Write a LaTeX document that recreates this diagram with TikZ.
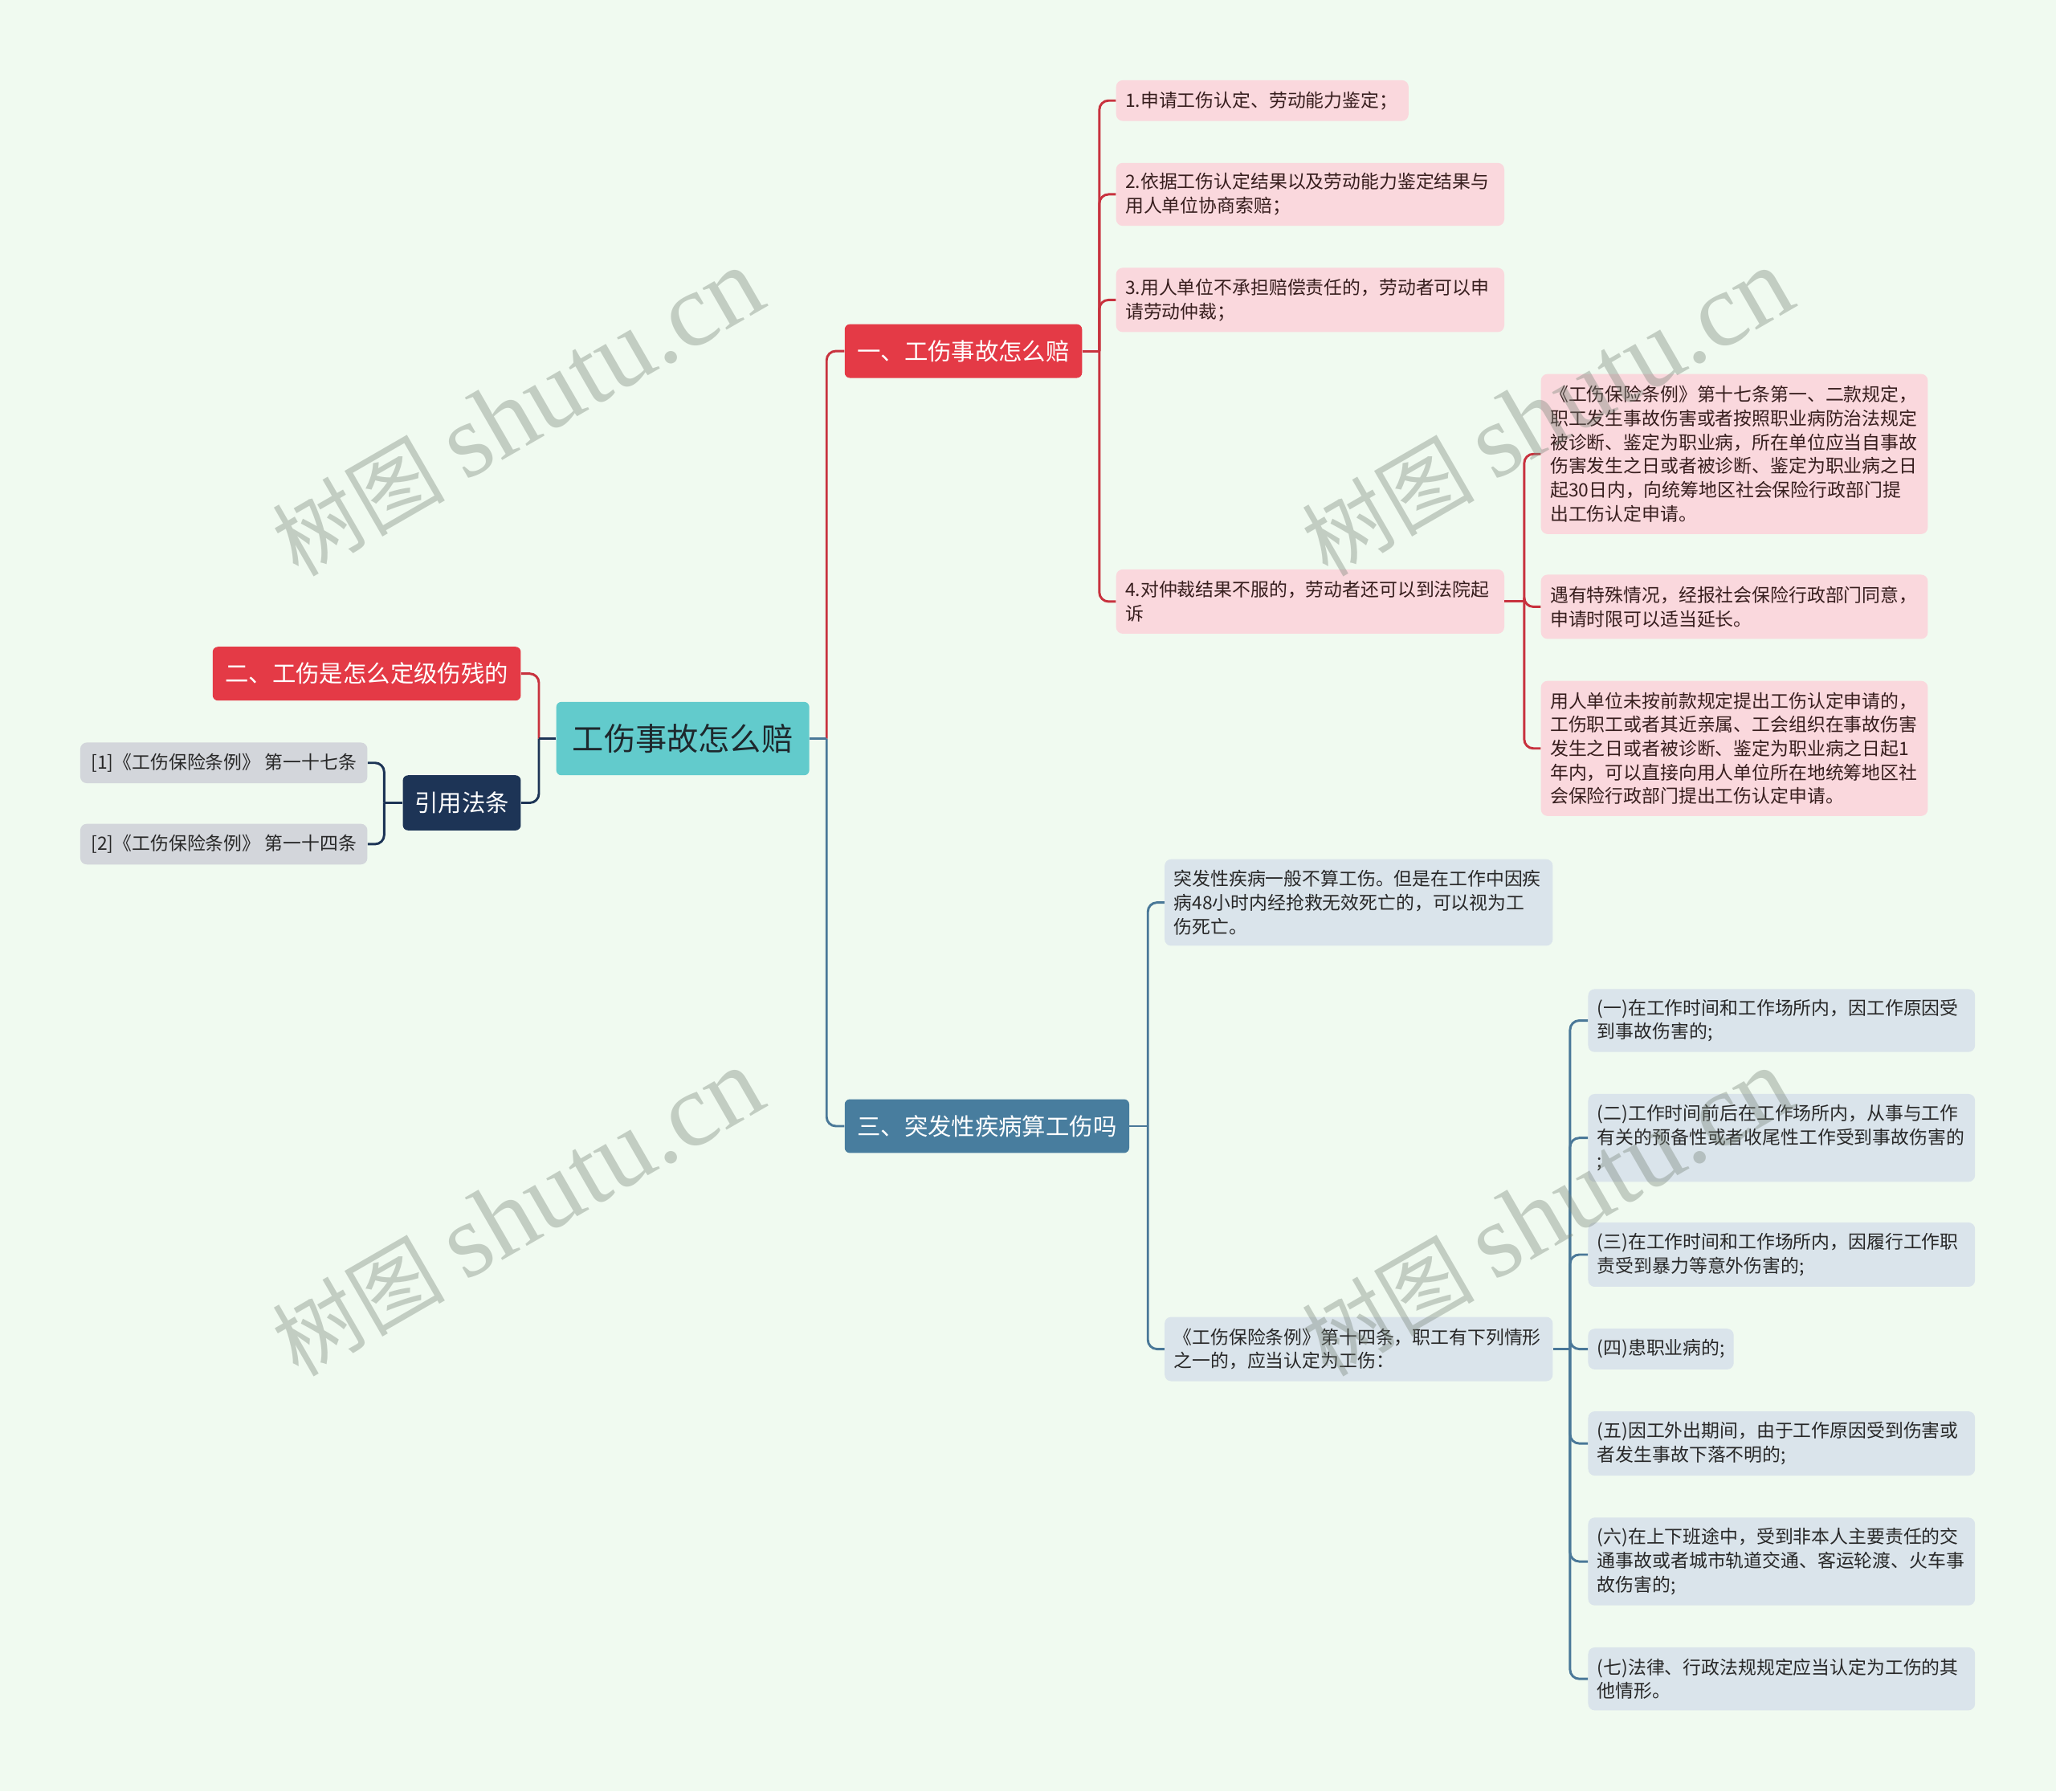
\documentclass[tikz,border=0pt]{standalone}
\usepackage{fontspec}
\setmainfont{Noto Sans CJK SC}
\newfontfamily\wmlatin{Liberation Serif}
\definecolor{bgc}{RGB}{240,250,240}
\definecolor{pinkleaf}{RGB}{250,216,221}
\definecolor{redmain}{RGB}{228,58,70}
\definecolor{redline}{RGB}{200,50,62}
\definecolor{tealroot}{RGB}{98,203,204}
\definecolor{bluemain}{RGB}{72,125,158}
\definecolor{blueline}{RGB}{74,120,152}
\definecolor{blueleaf}{RGB}{218,228,235}
\definecolor{navy}{RGB}{29,52,86}
\definecolor{grayleaf}{RGB}{211,214,219}
\definecolor{pinktext}{RGB}{55,30,30}
\definecolor{darktext}{RGB}{40,40,40}
\definecolor{roottext}{RGB}{30,40,45}
\definecolor{wmcol}{RGB}{120,132,120}
\begin{document}
\begin{tikzpicture}[x=1pt,y=-1pt,
  leafbase/.style={anchor=north west, rounded corners=5pt, inner xsep=7pt, inner ysep=0pt, align=left, font=\fontsize{14}{18.2}\selectfont},
  pk/.style={leafbase, fill=pinkleaf, text=pinktext},
  bl/.style={leafbase, fill=blueleaf, text=darktext},
  gy/.style={leafbase, fill=grayleaf, text=darktext, align=center, inner xsep=0pt},
  mainbox/.style={anchor=north west, rounded corners=4pt, inner sep=0pt, align=center, font=\fontsize{18}{22}\selectfont, text=white},
  link/.style={line width=1.8pt, rounded corners=7pt},
  redl/.style={link, draw=redline},
  bluel/.style={link, draw=blueline},
  navyl/.style={link, draw=navy},
  wm/.style={text=wmcol, text opacity=0.38, rotate=30, inner sep=0pt}
]
\fill[bgc] (0,0) rectangle (1568,1366);
\useasboundingbox (0,0) rectangle (1568,1366);

% root
\node[anchor=north west, rounded corners=4pt, inner sep=0pt, fill=tealroot, text=roottext,
  minimum width=193pt, minimum height=56pt, font=\fontsize{24}{28}\selectfont] (root) at (424,535) {工伤事故怎么赔};

% main branches
\node[mainbox, fill=redmain, minimum width=181pt, minimum height=41pt] (b1) at (644,247) {一、工伤事故怎么赔};
\node[mainbox, fill=bluemain, minimum width=217pt, minimum height=41pt] (b3) at (644,838) {三、突发性疾病算工伤吗};
\node[mainbox, fill=redmain, minimum width=235pt, minimum height=41pt] (b2) at (162,493) {二、工伤是怎么定级伤残的};
\node[mainbox, fill=navy, minimum width=90pt, minimum height=42pt] (cite) at (307,591) {引用法条};

% citations
\node[gy, minimum width=219pt, minimum height=31pt] (c1) at (61,566) {[1]《工伤保险条例》 第一十七条};
\node[gy, minimum width=219pt, minimum height=31pt] (c2) at (61,628) {[2]《工伤保险条例》 第一十四条};

% red leaves
\node[pk, text width=209pt, minimum height=31pt] (r1) at (851,61) {1.申请工伤认定、劳动能力鉴定；};
\node[pk, text width=282pt, minimum height=48pt] (r2) at (851,124) {2.依据工伤认定结果以及劳动能力鉴定结果与\\用人单位协商索赔；};
\node[pk, text width=282pt, minimum height=49pt] (r3) at (851,204) {3.用人单位不承担赔偿责任的，劳动者可以申\\请劳动仲裁；};
\node[pk, text width=282pt, minimum height=49pt] (r4) at (851,434) {4.对仲裁结果不服的，劳动者还可以到法院起\\诉};
\node[pk, text width=281pt, minimum height=122pt] (r4a) at (1175,285) {《工伤保险条例》第十七条第一、二款规定，\\职工发生事故伤害或者按照职业病防治法规定\\被诊断、鉴定为职业病，所在单位应当自事故\\伤害发生之日或者被诊断、鉴定为职业病之日\\起30日内，向统筹地区社会保险行政部门提\\出工伤认定申请。};
\node[pk, text width=281pt, minimum height=49pt] (r4b) at (1175,438) {遇有特殊情况，经报社会保险行政部门同意，\\申请时限可以适当延长。};
\node[pk, text width=281pt, minimum height=103pt] (r4c) at (1175,519) {用人单位未按前款规定提出工伤认定申请的，\\工伤职工或者其近亲属、工会组织在事故伤害\\发生之日或者被诊断、鉴定为职业病之日起1\\年内，可以直接向用人单位所在地统筹地区社\\会保险行政部门提出工伤认定申请。};

% blue leaves
\node[bl, text width=282pt, minimum height=66pt] (s1) at (888,655) {突发性疾病一般不算工伤。但是在工作中因疾\\病48小时内经抢救无效死亡的，可以视为工\\伤死亡。};
\node[bl, text width=282pt, minimum height=49pt] (s2) at (888,1004) {《工伤保险条例》第十四条，职工有下列情形\\之一的，应当认定为工伤：};
\node[bl, text width=281pt, minimum height=48pt] (t1) at (1211,754) {(一)在工作时间和工作场所内，因工作原因受\\到事故伤害的;};
\node[bl, text width=281pt, minimum height=67pt] (t2) at (1211,834) {(二)工作时间前后在工作场所内，从事与工作\\有关的预备性或者收尾性工作受到事故伤害的\\;};
\node[bl, text width=281pt, minimum height=49pt] (t3) at (1211,932) {(三)在工作时间和工作场所内，因履行工作职\\责受到暴力等意外伤害的;};
\node[bl, text width=97pt, minimum height=31pt] (t4) at (1211,1013) {(四)患职业病的;};
\node[bl, text width=281pt, minimum height=49pt] (t5) at (1211,1076) {(五)因工外出期间，由于工作原因受到伤害或\\者发生事故下落不明的;};
\node[bl, text width=281pt, minimum height=67pt] (t6) at (1211,1157) {(六)在上下班途中，受到非本人主要责任的交\\通事故或者城市轨道交通、客运轮渡、火车事\\故伤害的;};
\node[bl, text width=281pt, minimum height=48pt] (t7) at (1211,1256) {(七)法律、行政法规规定应当认定为工伤的其\\他情形。};

% junctions
\coordinate (jR) at ([xshift=13pt]root.east);
\coordinate (jL) at ([xshift=-13pt]root.west);
\coordinate (j1) at ([xshift=13pt]b1.east);
\coordinate (j4) at ([xshift=15pt]r4.east);
\coordinate (j3) at ([xshift=14pt]b3.east);
\coordinate (js) at ([xshift=13pt]s2.east);
\coordinate (jc) at ([xshift=-14pt]cite.west);

% connectors root
\draw[redl] (jR) |- (b1.west);
\draw[bluel] (jR) |- (b3.west);
\draw[bluel] (root.east) -- (jR);
\draw[redl] (jL) |- (b2.east);
\draw[navyl] (jL) |- (cite.east);
\draw[navyl] (root.west) -- (jL);
\draw[navyl] (cite.west) -- (jc);
\draw[navyl] (jc) |- (c1.east);
\draw[navyl] (jc) |- (c2.east);

% red branch
\draw[redl] (b1.east) -- (j1);
\foreach \n in {r1,r2,r3,r4} \draw[redl] (j1) |- (\n.west);
\draw[redl] (r4.east) -- (j4);
\foreach \n in {r4a,r4b,r4c} \draw[redl] (j4) |- (\n.west);

% blue branch
\draw[bluel] (b3.east) -- (j3);
\foreach \n in {s1,s2} \draw[bluel] (j3) |- (\n.west);
\draw[bluel] (s2.east) -- (js);
\foreach \n in {t1,t2,t3,t4,t5,t6,t7} \draw[bluel] (js) |- (\n.west);

% watermarks
\foreach \p [count=\i] in {{(395,315)},{(1180,315)},{(395,925)},{(1180,925)}}
  \node[wm] (wm\i) at \p {\fontsize{66}{70}\selectfont 树图 \wmlatin\fontsize{80}{84}\selectfont shutu.cn};
\end{tikzpicture}
\end{document}
